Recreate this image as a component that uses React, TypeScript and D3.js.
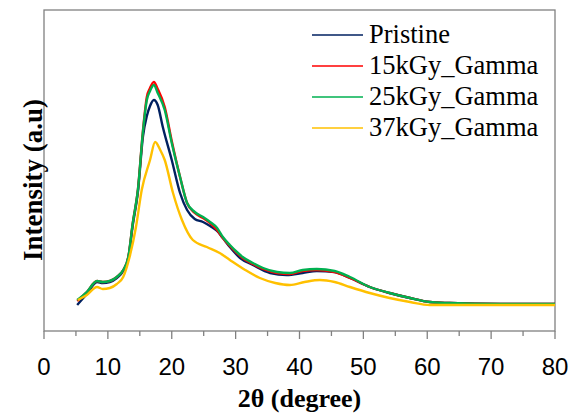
import React from "react";
import * as d3 from "d3";

// 2θ (degree) and intensity (a.u.)
const pristineX = [5.2, 6.7, 8.3, 9.2, 10.3, 11.4, 12.4, 13.2, 13.9, 14.7, 15.5, 16.1, 16.6, 17.2, 17.8, 18.6, 20.0, 21.3, 22.4, 23.6, 24.9, 26.0, 27.1, 28.0, 29.1, 30.7, 32.7, 35.4, 38.0, 40.5, 42.7, 45.5, 47.9, 51.0, 54.1, 57.3, 60.4, 63.5, 71.4, 80.0];
const pristineY = [26, 37, 49, 48, 49, 53, 60, 73, 106, 139, 195, 215, 225, 231, 226, 204, 171, 138, 121, 112, 109, 105, 100, 93, 84, 73, 66, 58, 56, 58, 60, 59, 53, 44, 38, 33, 29, 28, 27, 27];

const g15X = [5.2, 6.7, 8.3, 9.2, 10.3, 11.4, 12.4, 13.2, 13.9, 14.7, 15.5, 16.1, 16.6, 17.2, 17.8, 18.9, 20.0, 21.3, 22.4, 23.6, 24.9, 26.0, 27.1, 28.0, 29.1, 30.2, 31.1, 32.7, 34.3, 36.5, 38.5, 40.5, 42.7, 45.5, 47.9, 51.0, 54.1, 57.3, 60.4, 63.5, 71.4, 80.0];
const g15Y = [30, 39, 50, 49, 50, 54, 61, 74, 108, 141, 201, 234, 243, 249, 242, 224, 190, 154, 128, 118, 113, 108, 101, 93, 85, 78, 73, 67, 62, 58, 57, 60, 61, 59, 53, 44, 38, 33, 29, 28, 27, 27];

const g25X = [5.2, 6.7, 8.3, 9.2, 10.3, 11.4, 12.4, 13.2, 13.9, 14.7, 15.5, 16.1, 16.6, 17.2, 17.8, 18.9, 20.0, 21.3, 22.4, 23.6, 24.9, 26.0, 27.1, 28.0, 29.1, 30.2, 31.1, 32.7, 34.3, 36.5, 38.5, 40.5, 42.7, 45.5, 47.9, 51.0, 54.1, 57.3, 60.4, 63.5, 71.4, 80.0];
const g25Y = [31, 39, 50, 49, 50, 54, 61, 74, 108, 141, 200, 231, 240, 246, 238, 221, 188, 154, 128, 119, 114, 109, 103, 94, 86, 79, 74, 68, 63, 59, 58, 61, 62, 60, 54, 44, 38, 33, 29, 28, 27, 27];

const g37X = [5.3, 6.7, 8.3, 9.2, 10.3, 11.4, 12.4, 13.4, 14.4, 15.3, 16.6, 17.4, 18.2, 18.9, 20.2, 21.6, 23.3, 25.5, 27.5, 29.1, 31.5, 33.8, 36.2, 38.5, 40.8, 43.2, 45.5, 47.9, 51.0, 54.1, 57.3, 60.4, 71.4, 80.0];
const g37Y = [31, 36, 44, 42, 43, 47, 54, 74, 104, 141, 171, 189, 181, 171, 138, 111, 91, 84, 78, 71, 61, 53, 48, 46, 49, 51, 49, 44, 38, 33, 29, 26, 26, 26];

const seriesNames = ["Pristine", "15kGy_Gamma", "25kGy_Gamma", "37kGy_Gamma"];
const seriesColors = ["#002060", "#ff0000", "#00b050", "#ffc000"];
const seriesXs = [pristineX, g15X, g25X, g37X];
const seriesYs = [pristineY, g15Y, g25Y, g37Y];

const xTicks = [0, 10, 20, 30, 40, 50, 60, 70, 80];
const xMinorTicks = [5, 15, 25, 35, 45, 55, 65, 75];

export default function App() {
  const W = 576, H = 414;
  const left = 44, right = 555, top = 10, bottom = 331;
  const x = d3.scaleLinear().domain([0, 80]).range([left, right]);
  const y = d3.scaleLinear().domain([0, 321]).range([bottom, top]);
  const line = d3
    .line<[number, number]>()
    .x((d) => x(d[0]))
    .y((d) => y(d[1]))
    .curve(d3.curveMonotoneX);

  const axisColor = "#808080";
  const legendX = 312;
  const legendBase = 43;
  const legendStep = 31;

  return (
    <svg
      width={W}
      height={H}
      style={{ position: "absolute", left: 0, top: 0 }}
    >
      <rect x={0} y={0} width={W} height={H} fill="#fff" />
      {/* plot frame */}
      <rect
        x={left}
        y={top}
        width={right - left}
        height={bottom - top}
        fill="none"
        stroke={axisColor}
        strokeWidth={1.3}
      />
      {/* series */}
      {seriesNames.map((name, i) => {
        const pts: [number, number][] = seriesXs[i].map((v, j) => [v, seriesYs[i][j]]);
        return (
          <path
            key={name}
            d={line(pts) || ""}
            fill="none"
            stroke={seriesColors[i]}
            strokeWidth={2.4}
            strokeLinejoin="round"
          />
        );
      })}
      {/* x axis ticks */}
      {xTicks.map((t) => (
        <line key={"t" + t} x1={x(t)} x2={x(t)} y1={bottom} y2={bottom + 8} stroke={axisColor} strokeWidth={1.3} />
      ))}
      {xMinorTicks.map((t) => (
        <line key={"m" + t} x1={x(t)} x2={x(t)} y1={bottom} y2={bottom + 5} stroke={axisColor} strokeWidth={1.3} />
      ))}
      {xTicks.map((t) => (
        <text
          key={"l" + t}
          x={x(t)}
          y={375}
          textAnchor="middle"
          fontFamily="Liberation Sans, Arial, sans-serif"
          fontSize={24}
          fill="#000"
        >
          {t}
        </text>
      ))}
      {/* axis titles */}
      <text
        x={(left + right) / 2}
        y={407}
        textAnchor="middle"
        fontFamily="Liberation Serif, Times New Roman, serif"
        fontWeight="bold"
        fontSize={26}
        fill="#000"
      >
        2θ (degree)
      </text>
      <text
        transform={`translate(42, 180) rotate(-90)`}
        textAnchor="middle"
        fontFamily="Liberation Serif, Times New Roman, serif"
        fontWeight="bold"
        fontSize={27}
        fill="#000"
      >
        Intensity (a.u)
      </text>
      {/* legend */}
      {seriesNames.map((name, i) => (
        <g key={"lg" + name}>
          <line
            x1={legendX}
            x2={legendX + 51}
            y1={legendBase + i * legendStep - 8}
            y2={legendBase + i * legendStep - 8}
            stroke={seriesColors[i]}
            strokeWidth={1.5}
          />
          <text
            x={369}
            y={legendBase + i * legendStep}
            fontFamily="Liberation Serif, Times New Roman, serif"
            fontSize={26.5}
            fill="#000"
          >
            {name}
          </text>
        </g>
      ))}
    </svg>
  );
}
